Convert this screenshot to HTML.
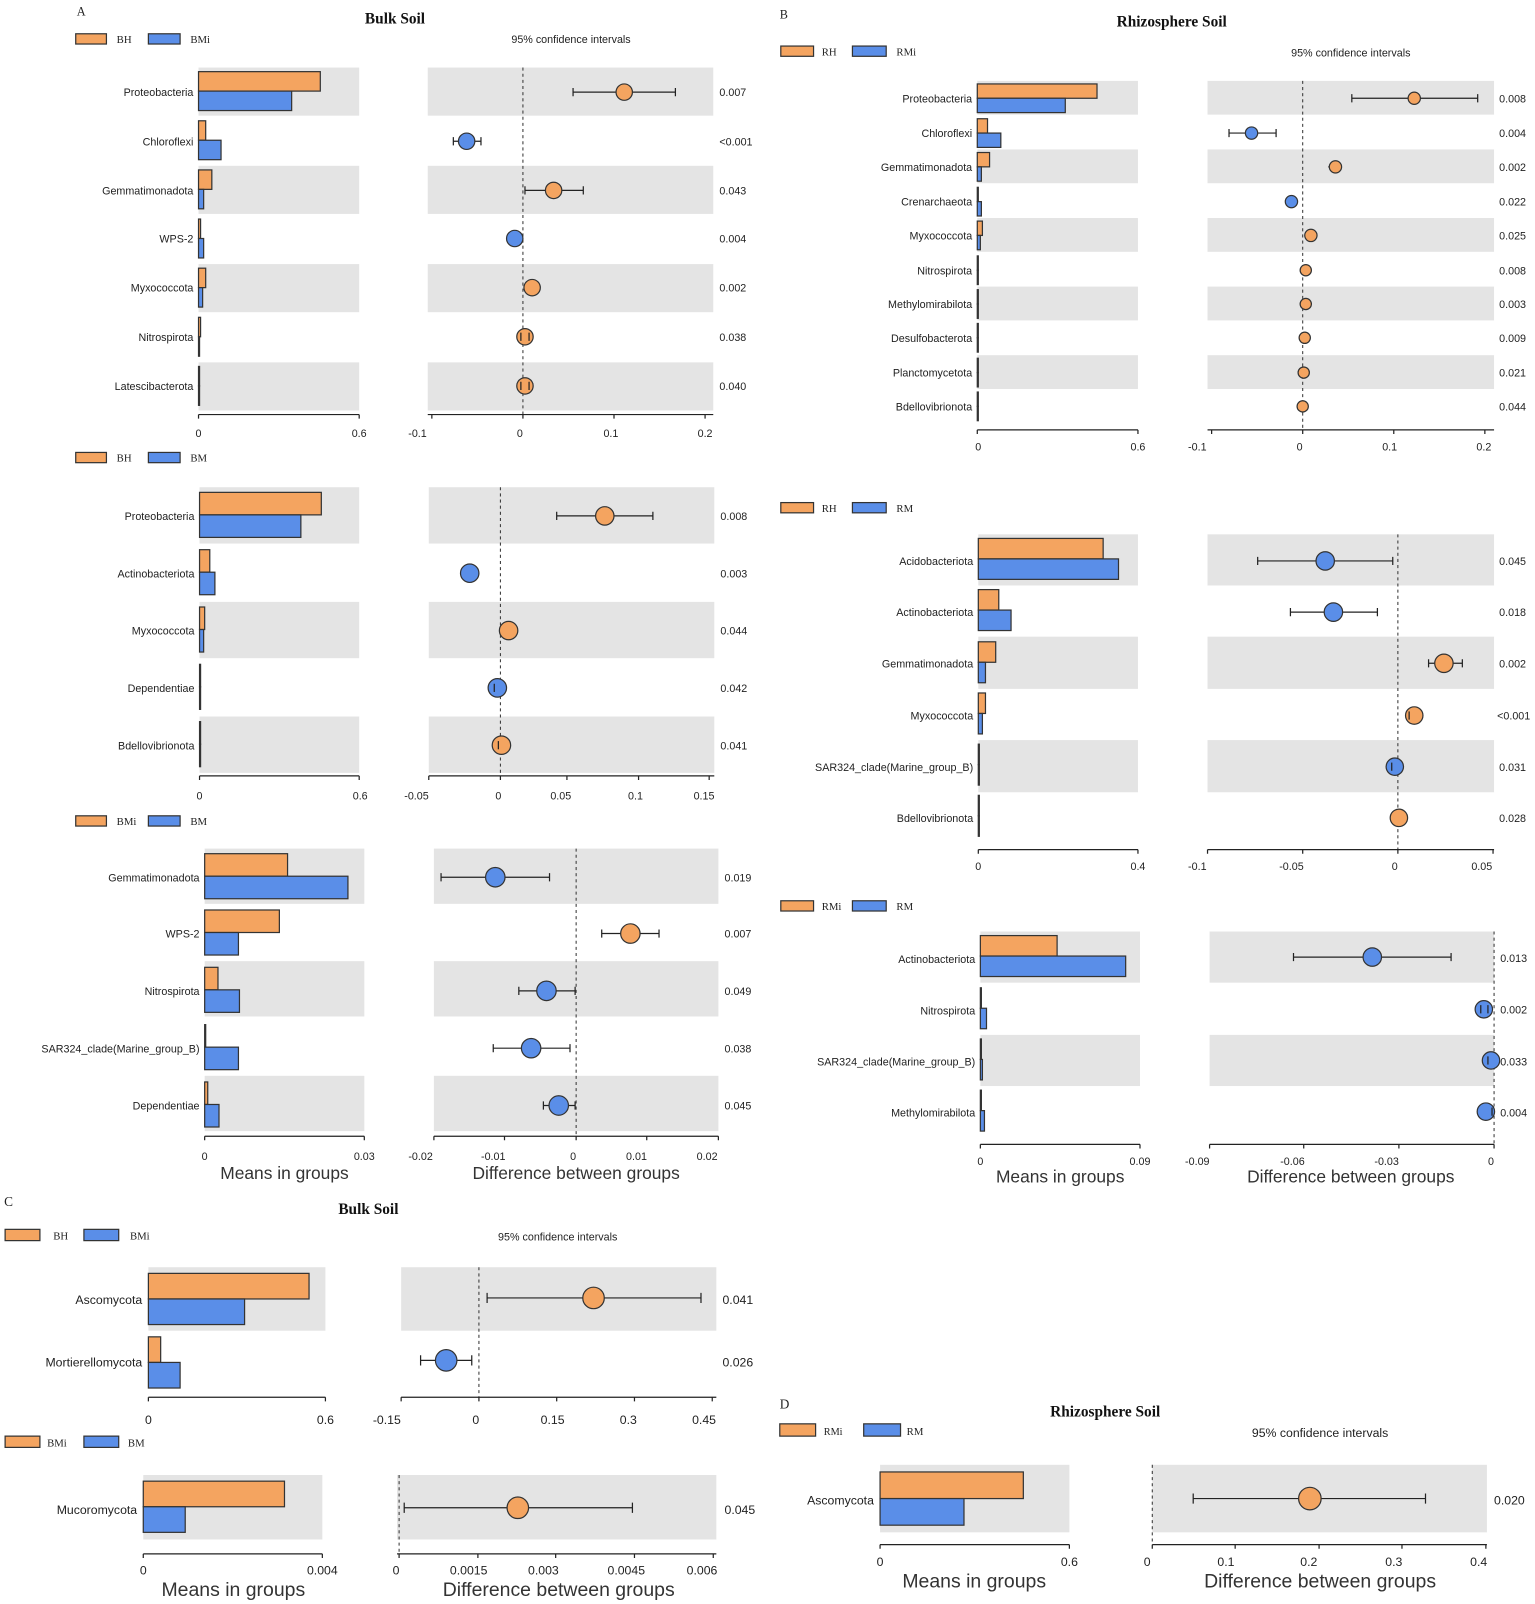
<!DOCTYPE html>
<html><head><meta charset="utf-8"><style>
html,body{margin:0;padding:0;background:#fff;}
svg{display:block}
text{font-family:"Liberation Sans",sans-serif;font-size:10.5px;fill:#222}
.s{font-family:"Liberation Serif",serif}
.t{font-family:"Liberation Serif",serif;font-weight:bold;font-size:15px;fill:#111}
.o{fill:#f4a460;stroke:#333;stroke-width:1.2}
.b{fill:#5a8ee8;stroke:#333;stroke-width:1.2}
.g{fill:#e4e4e4}
.l{stroke:#222;stroke-width:1.2;fill:none}
.d{stroke:#333;stroke-width:1;stroke-dasharray:3,3;fill:none}
.r{text-anchor:end}
.m{text-anchor:middle}
.big{font-size:17px;fill:#333}
</style></head><body>
<svg width="1535" height="1604" viewBox="0 0 1500 1567" preserveAspectRatio="none">
<!-- ===== A1 ===== -->
<text class="s" x="75" y="15" style="font-size:12px">A</text>
<text class="t m" x="386" y="23">Bulk Soil</text>
<rect class="o" x="74" y="33" width="30" height="10"/><text class="s" x="114" y="42">BH</text>
<rect class="b" x="145" y="33" width="31" height="10"/><text class="s" x="186" y="42">BMi</text>
<text class="m" x="558" y="42">95% confidence intervals</text>
<rect class="g" x="194" y="66" width="157" height="47"/><rect class="g" x="194" y="162" width="157" height="47"/><rect class="g" x="194" y="258" width="157" height="47"/><rect class="g" x="194" y="354" width="157" height="47"/>
<rect class="g" x="418" y="66" width="279" height="47"/><rect class="g" x="418" y="162" width="279" height="47"/><rect class="g" x="418" y="258" width="279" height="47"/><rect class="g" x="418" y="354" width="279" height="47"/>
<line class="d" x1="511" y1="66" x2="511" y2="405"/>
<text class="r" x="189" y="94">Proteobacteria</text><rect class="o" x="194" y="70" width="119" height="19"/><rect class="b" x="194" y="89" width="91" height="19"/>
<text class="r" x="189" y="142">Chloroflexi</text><rect class="o" x="194" y="118" width="7" height="19"/><rect class="b" x="194" y="137" width="22" height="19"/>
<text class="r" x="189" y="190">Gemmatimonadota</text><rect class="o" x="194" y="166" width="13" height="19"/><rect class="b" x="194" y="185" width="5" height="19"/>
<text class="r" x="189" y="237">WPS-2</text><rect class="o" x="194" y="214" width="2" height="19"/><rect class="b" x="194" y="233" width="5" height="19"/>
<text class="r" x="189" y="285">Myxococcota</text><rect class="o" x="194" y="262" width="7" height="19"/><rect class="b" x="194" y="281" width="4" height="19"/>
<text class="r" x="189" y="333">Nitrospirota</text><rect class="o" x="194" y="310" width="2" height="19"/><rect class="b" x="194" y="329" width="1" height="19"/>
<text class="r" x="189" y="381">Latescibacterota</text><rect class="o" x="194" y="358" width="1" height="19"/><rect class="b" x="194" y="377" width="1" height="19"/>
<path class="l" d="M194 405H351M194 405v4M351 405v4"/><text class="m" x="194" y="427">0</text><text class="m" x="351" y="427">0.6</text>
<path class="l" d="M560 90H660M560 86v8M660 86v8"/><circle class="o" cx="610" cy="90" r="8"/>
<path class="l" d="M443 138H470M443 134v8M470 134v8"/><circle class="b" cx="456" cy="138" r="8"/>
<path class="l" d="M513 186H570M513 182v8M570 182v8"/><circle class="o" cx="541" cy="186" r="8"/>
<path class="l" d="M497 233H509M497 229v8M509 229v8"/><circle class="b" cx="503" cy="233" r="8"/>
<path class="l" d="M514 281H527M514 277v8M527 277v8"/><circle class="o" cx="520" cy="281" r="8"/>
<circle class="o" cx="513" cy="329" r="8"/><path class="l" d="M509 325v8M517 325v8"/>
<circle class="o" cx="513" cy="377" r="8"/><path class="l" d="M509 373v8M517 373v8"/>
<path class="l" d="M418 405H697M422 405v4M511 405v4M600 405v4M689 405v4"/>
<text class="m" x="408" y="427">-0.1</text><text class="m" x="508" y="427">0</text><text class="m" x="597" y="427">0.1</text><text class="m" x="689" y="427">0.2</text>
<text x="703" y="94">0.007</text><text x="703" y="142">&lt;0.001</text><text x="703" y="190">0.043</text><text x="703" y="237">0.004</text><text x="703" y="285">0.002</text><text x="703" y="333">0.038</text><text x="703" y="381">0.040</text>

<!-- ===== A2 ===== -->
<rect class="o" x="74" y="442" width="30" height="10"/><text class="s" x="114" y="451">BH</text>
<rect class="b" x="145" y="442" width="31" height="10"/><text class="s" x="186" y="451">BM</text>
<rect class="g" x="195" y="476" width="156" height="55"/><rect class="g" x="195" y="588" width="156" height="55"/><rect class="g" x="195" y="700" width="156" height="55"/>
<rect class="g" x="419" y="476" width="279" height="55"/><rect class="g" x="419" y="588" width="279" height="55"/><rect class="g" x="419" y="700" width="279" height="55"/>
<line class="d" x1="489" y1="476" x2="489" y2="758"/>
<text class="r" x="190" y="508">Proteobacteria</text><rect class="o" x="195" y="481" width="119" height="22"/><rect class="b" x="195" y="503" width="99" height="22"/>
<text class="r" x="190" y="564">Actinobacteriota</text><rect class="o" x="195" y="537" width="10" height="22"/><rect class="b" x="195" y="559" width="15" height="22"/>
<text class="r" x="190" y="620">Myxococcota</text><rect class="o" x="195" y="593" width="5" height="22"/><rect class="b" x="195" y="615" width="4" height="22"/>
<text class="r" x="190" y="676">Dependentiae</text><rect class="o" x="195" y="649" width="1" height="22"/><rect class="b" x="195" y="671" width="1" height="22"/>
<text class="r" x="190" y="732">Bdellovibrionota</text><rect class="o" x="195" y="705" width="1" height="22"/><rect class="b" x="195" y="727" width="1" height="22"/>
<path class="l" d="M195 758H351M195 758v4M351 758v4"/><text class="m" x="195" y="781">0</text><text class="m" x="352" y="781">0.6</text>
<path class="l" d="M544 504H638M544 500v8M638 500v8"/><circle class="o" cx="591" cy="504" r="9"/>
<circle class="b" cx="459" cy="560" r="9"/>
<circle class="o" cx="497" cy="616" r="9"/>
<circle class="b" cx="486" cy="672" r="9"/><path class="l" d="M483 668v8"/>
<circle class="o" cx="490" cy="728" r="9"/><path class="l" d="M487 724v8"/>
<path class="l" d="M419 758H698M419 758v4M489 758v4M554 758v4M624 758v4M693 758v4"/>
<text class="m" x="407" y="781">-0.05</text><text class="m" x="487" y="781">0</text><text class="m" x="548" y="781">0.05</text><text class="m" x="621" y="781">0.1</text><text class="m" x="688" y="781">0.15</text>
<text x="704" y="508">0.008</text><text x="704" y="564">0.003</text><text x="704" y="620">0.044</text><text x="704" y="676">0.042</text><text x="704" y="732">0.041</text>

<!-- ===== A3 ===== -->
<rect class="o" x="74" y="797" width="30" height="10"/><text class="s" x="114" y="806">BMi</text>
<rect class="b" x="145" y="797" width="31" height="10"/><text class="s" x="186" y="806">BM</text>
<rect class="g" x="200" y="829" width="156" height="54"/><rect class="g" x="200" y="939" width="156" height="54"/><rect class="g" x="200" y="1051" width="156" height="54"/>
<rect class="g" x="424" y="829" width="278" height="54"/><rect class="g" x="424" y="939" width="278" height="54"/><rect class="g" x="424" y="1051" width="278" height="54"/>
<line class="d" x1="563" y1="829" x2="563" y2="1110"/>
<text class="r" x="195" y="861">Gemmatimonadota</text><rect class="o" x="200" y="834" width="81" height="22"/><rect class="b" x="200" y="856" width="140" height="22"/>
<text class="r" x="195" y="916">WPS-2</text><rect class="o" x="200" y="889" width="73" height="22"/><rect class="b" x="200" y="911" width="33" height="22"/>
<text class="r" x="195" y="972">Nitrospirota</text><rect class="o" x="200" y="945" width="13" height="22"/><rect class="b" x="200" y="967" width="34" height="22"/>
<text class="r" x="195" y="1028">SAR324_clade(Marine_group_B)</text><rect class="o" x="200" y="1001" width="1" height="22"/><rect class="b" x="200" y="1023" width="33" height="22"/>
<text class="r" x="195" y="1084">Dependentiae</text><rect class="o" x="200" y="1057" width="3" height="22"/><rect class="b" x="200" y="1079" width="14" height="22"/>
<path class="l" d="M200 1110H356M200 1110v4M356 1110v4"/><text class="m" x="200" y="1133">0</text><text class="m" x="356" y="1133">0.03</text>
<text class="m big" x="278" y="1152">Means in groups</text>
<path class="l" d="M431 857H537M431 853v8M537 853v8"/><circle class="b" cx="484" cy="857" r="9.5"/>
<path class="l" d="M588 912H644M588 908v8M644 908v8"/><circle class="o" cx="616" cy="912" r="9.5"/>
<path class="l" d="M507 968H562M507 964v8M562 964v8"/><circle class="b" cx="534" cy="968" r="9.5"/>
<path class="l" d="M482 1024H557M482 1020v8M557 1020v8"/><circle class="b" cx="519" cy="1024" r="9.5"/>
<path class="l" d="M531 1080H562M531 1076v8M562 1076v8"/><circle class="b" cx="546" cy="1080" r="9.5"/>
<path class="l" d="M424 1110H702M424 1110v4M493 1110v4M563 1110v4M632 1110v4M702 1110v4"/>
<text class="m" x="411" y="1133">-0.02</text><text class="m" x="482" y="1133">-0.01</text><text class="m" x="560" y="1133">0</text><text class="m" x="622" y="1133">0.01</text><text class="m" x="691" y="1133">0.02</text>
<text class="m big" x="563" y="1152">Difference between groups</text>
<text x="708" y="861">0.019</text><text x="708" y="916">0.007</text><text x="708" y="972">0.049</text><text x="708" y="1028">0.038</text><text x="708" y="1084">0.045</text>

<!-- ===== B1 ===== -->
<text class="s" x="762" y="18" style="font-size:12px">B</text>
<text class="t m" x="1145" y="26">Rhizosphere  Soil</text>
<rect class="o" x="763" y="45" width="32" height="10"/><text class="s" x="803" y="54">RH</text>
<rect class="b" x="833" y="45" width="33" height="10"/><text class="s" x="876" y="54">RMi</text>
<text class="m" x="1320" y="55">95% confidence intervals</text>
<rect class="g" x="955" y="79" width="157" height="33"/><rect class="g" x="955" y="146" width="157" height="33"/><rect class="g" x="955" y="213" width="157" height="33"/><rect class="g" x="955" y="280" width="157" height="33"/><rect class="g" x="955" y="347" width="157" height="33"/>
<rect class="g" x="1180" y="79" width="280" height="33"/><rect class="g" x="1180" y="146" width="280" height="33"/><rect class="g" x="1180" y="213" width="280" height="33"/><rect class="g" x="1180" y="280" width="280" height="33"/><rect class="g" x="1180" y="347" width="280" height="33"/>
<line class="d" x1="1273" y1="79" x2="1273" y2="420"/>
<text class="r" x="950" y="100">Proteobacteria</text><rect class="o" x="955" y="82" width="117" height="14"/><rect class="b" x="955" y="96" width="86" height="14"/>
<text class="r" x="950" y="134">Chloroflexi</text><rect class="o" x="955" y="116" width="10" height="14"/><rect class="b" x="955" y="130" width="23" height="14"/>
<text class="r" x="950" y="167">Gemmatimonadota</text><rect class="o" x="955" y="149" width="12" height="14"/><rect class="b" x="955" y="163" width="4" height="14"/>
<text class="r" x="950" y="201">Crenarchaeota</text><rect class="o" x="955" y="183" width="1" height="14"/><rect class="b" x="955" y="197" width="4" height="14"/>
<text class="r" x="950" y="234">Myxococcota</text><rect class="o" x="955" y="216" width="5" height="14"/><rect class="b" x="955" y="230" width="3" height="14"/>
<text class="r" x="950" y="268">Nitrospirota</text><rect class="o" x="955" y="250" width="1" height="14"/><rect class="b" x="955" y="264" width="1" height="14"/>
<text class="r" x="950" y="301">Methylomirabilota</text><rect class="o" x="955" y="283" width="1" height="14"/><rect class="b" x="955" y="297" width="1" height="14"/>
<text class="r" x="950" y="334">Desulfobacterota</text><rect class="o" x="955" y="316" width="1" height="14"/><rect class="b" x="955" y="330" width="1" height="14"/>
<text class="r" x="950" y="368">Planctomycetota</text><rect class="o" x="955" y="350" width="1" height="14"/><rect class="b" x="955" y="364" width="1" height="14"/>
<text class="r" x="950" y="401">Bdellovibrionota</text><rect class="o" x="955" y="383" width="1" height="14"/><rect class="b" x="955" y="397" width="1" height="14"/>
<path class="l" d="M955 420H1112M955 420v4M1112 420v4"/><text class="m" x="956" y="440">0</text><text class="m" x="1112" y="440">0.6</text>
<path class="l" d="M1321 96H1444M1321 92v8M1444 92v8"/><circle class="o" cx="1382" cy="96" r="6"/>
<path class="l" d="M1201 130H1247M1201 126v8M1247 126v8"/><circle class="b" cx="1223" cy="130" r="6"/>
<path class="l" d="M1298 163H1311"/><circle class="o" cx="1305" cy="163" r="6"/>
<circle class="b" cx="1262" cy="197" r="6"/>
<circle class="o" cx="1281" cy="230" r="6"/>
<circle class="o" cx="1276" cy="264" r="5.5"/><circle class="o" cx="1276" cy="297" r="5.5"/><circle class="o" cx="1275" cy="330" r="5.5"/><circle class="o" cx="1274" cy="364" r="5.5"/><circle class="o" cx="1273" cy="397" r="5.5"/>
<path class="l" d="M1180 420H1460M1184 420v4M1273 420v4M1362 420v4M1451 420v4"/>
<text class="m" x="1170" y="440">-0.1</text><text class="m" x="1270" y="440">0</text><text class="m" x="1358" y="440">0.1</text><text class="m" x="1450" y="440">0.2</text>
<text x="1465" y="100">0.008</text><text x="1465" y="134">0.004</text><text x="1465" y="167">0.002</text><text x="1465" y="201">0.022</text><text x="1465" y="234">0.025</text><text x="1465" y="268">0.008</text><text x="1465" y="301">0.003</text><text x="1465" y="334">0.009</text><text x="1465" y="368">0.021</text><text x="1465" y="401">0.044</text>

<!-- ===== B2 ===== -->
<rect class="o" x="763" y="491" width="32" height="10"/><text class="s" x="803" y="500">RH</text>
<rect class="b" x="833" y="491" width="33" height="10"/><text class="s" x="876" y="500">RM</text>
<rect class="g" x="956" y="522" width="156" height="50"/><rect class="g" x="956" y="622" width="156" height="51"/><rect class="g" x="956" y="723" width="156" height="51"/>
<rect class="g" x="1180" y="522" width="280" height="50"/><rect class="g" x="1180" y="622" width="280" height="51"/><rect class="g" x="1180" y="723" width="280" height="51"/>
<line class="d" x1="1366" y1="522" x2="1366" y2="830"/>
<text class="r" x="951" y="552">Acidobacteriota</text><rect class="o" x="956" y="526" width="122" height="20"/><rect class="b" x="956" y="546" width="137" height="20"/>
<text class="r" x="951" y="602">Actinobacteriota</text><rect class="o" x="956" y="576" width="20" height="20"/><rect class="b" x="956" y="596" width="32" height="20"/>
<text class="r" x="951" y="652">Gemmatimonadota</text><rect class="o" x="956" y="627" width="17" height="20"/><rect class="b" x="956" y="647" width="7" height="20"/>
<text class="r" x="951" y="703">Myxococcota</text><rect class="o" x="956" y="677" width="7" height="20"/><rect class="b" x="956" y="697" width="4" height="20"/>
<text class="r" x="951" y="753">SAR324_clade(Marine_group_B)</text><rect class="o" x="956" y="727" width="1" height="20"/><rect class="b" x="956" y="747" width="1" height="20"/>
<text class="r" x="951" y="803">Bdellovibrionota</text><rect class="o" x="956" y="777" width="1" height="20"/><rect class="b" x="956" y="797" width="1" height="20"/>
<path class="l" d="M956 830H1112M956 830v4M1112 830v4"/><text class="m" x="956" y="850">0</text><text class="m" x="1112" y="850">0.4</text>
<path class="l" d="M1229 548H1361M1229 544v8M1361 544v8"/><circle class="b" cx="1295" cy="548" r="9"/>
<path class="l" d="M1261 598H1346M1261 594v8M1346 594v8"/><circle class="b" cx="1303" cy="598" r="9"/>
<path class="l" d="M1396 648H1429M1396 644v8M1429 644v8"/><circle class="o" cx="1411" cy="648" r="9"/>
<circle class="o" cx="1382" cy="699" r="8.5"/><path class="l" d="M1377 695v8"/>
<circle class="b" cx="1363" cy="749" r="8.5"/><path class="l" d="M1360 745v8"/>
<circle class="o" cx="1367" cy="799" r="8.5"/>
<path class="l" d="M1180 830H1460M1180 830v4M1273 830v4M1366 830v4M1459 830v4"/>
<text class="m" x="1170" y="850">-0.1</text><text class="m" x="1262" y="850">-0.05</text><text class="m" x="1363" y="850">0</text><text class="m" x="1448" y="850">0.05</text>
<text x="1465" y="552">0.045</text><text x="1465" y="602">0.018</text><text x="1465" y="652">0.002</text><text x="1463" y="703">&lt;0.001</text><text x="1465" y="753">0.031</text><text x="1465" y="803">0.028</text>

<!-- ===== B3 ===== -->
<rect class="o" x="763" y="880" width="32" height="10"/><text class="s" x="803" y="889">RMi</text>
<rect class="b" x="833" y="880" width="33" height="10"/><text class="s" x="876" y="889">RM</text>
<rect class="g" x="958" y="910" width="156" height="50"/><rect class="g" x="958" y="1011" width="156" height="50"/>
<rect class="g" x="1182" y="910" width="278" height="50"/><rect class="g" x="1182" y="1011" width="278" height="50"/>
<line class="d" x1="1460" y1="910" x2="1460" y2="1118"/>
<text class="r" x="953" y="941">Actinobacteriota</text><rect class="o" x="958" y="914" width="75" height="20"/><rect class="b" x="958" y="934" width="142" height="20"/>
<text class="r" x="953" y="991">Nitrospirota</text><rect class="o" x="958" y="965" width="1" height="20"/><rect class="b" x="958" y="985" width="6" height="20"/>
<text class="r" x="953" y="1041">SAR324_clade(Marine_group_B)</text><rect class="o" x="958" y="1015" width="1" height="20"/><rect class="b" x="958" y="1035" width="2" height="20"/>
<text class="r" x="953" y="1091">Methylomirabilota</text><rect class="o" x="958" y="1065" width="1" height="20"/><rect class="b" x="958" y="1085" width="4" height="20"/>
<path class="l" d="M958 1118H1114M958 1118v4M1114 1118v4"/><text class="m" x="958" y="1138">0</text><text class="m" x="1114" y="1138">0.09</text>
<text class="m big" x="1036" y="1155">Means in groups</text>
<path class="l" d="M1264 935H1418M1264 931v8M1418 931v8"/><circle class="b" cx="1341" cy="935" r="9"/>
<circle class="b" cx="1450" cy="986" r="8.5"/><path class="l" d="M1447 982v8M1454 982v8"/>
<circle class="b" cx="1457" cy="1036" r="8.5"/><path class="l" d="M1454 1032v8"/>
<circle class="b" cx="1452" cy="1086" r="8.5"/><path class="l" d="M1458 1082v8"/>
<path class="l" d="M1182 1118H1460M1182 1118v4M1274 1118v4M1367 1118v4M1460 1118v4"/>
<text class="m" x="1170" y="1138">-0.09</text><text class="m" x="1263" y="1138">-0.06</text><text class="m" x="1355" y="1138">-0.03</text><text class="m" x="1457" y="1138">0</text>
<text class="m big" x="1320" y="1155">Difference between groups</text>
<text x="1466" y="940">0.013</text><text x="1466" y="990">0.002</text><text x="1466" y="1041">0.033</text><text x="1466" y="1091">0.004</text>

<!-- ===== C ===== -->
<text class="s" x="4" y="1178" style="font-size:13px">C</text>
<text class="t m" x="360" y="1186">Bulk Soil</text>
<rect class="o" x="5" y="1201" width="34" height="11"/><text class="s" x="52" y="1211">BH</text>
<rect class="b" x="82" y="1201" width="34" height="11"/><text class="s" x="127" y="1211">BMi</text>
<text class="m" x="545" y="1212">95% confidence intervals</text>
<rect class="g" x="145" y="1238" width="173" height="62"/><rect class="g" x="392" y="1238" width="308" height="62"/>
<line class="d" x1="468" y1="1238" x2="468" y2="1365"/>
<text class="r" x="139" y="1274" style="font-size:12px">Ascomycota</text><rect class="o" x="145" y="1244" width="157" height="25"/><rect class="b" x="145" y="1269" width="94" height="25"/>
<text class="r" x="139" y="1335" style="font-size:12px">Mortierellomycota</text><rect class="o" x="145" y="1306" width="12" height="25"/><rect class="b" x="145" y="1331" width="31" height="25"/>
<path class="l" d="M145 1365H318M145 1365v4M318 1365v4"/><text class="m" x="145" y="1391" style="font-size:12px">0</text><text class="m" x="318" y="1391" style="font-size:12px">0.6</text>
<path class="l" d="M476 1268H685M476 1263v10M685 1263v10"/><circle class="o" cx="580" cy="1268" r="10.5"/>
<path class="l" d="M411 1329H461M411 1324v10M461 1324v10"/><circle class="b" cx="436" cy="1329" r="10.5"/>
<path class="l" d="M392 1365H700M392 1365v4M468 1365v4M544 1365v4M620 1365v4M696 1365v4"/>
<text class="m" x="378" y="1391" style="font-size:12px">-0.15</text><text class="m" x="465" y="1391" style="font-size:12px">0</text><text class="m" x="540" y="1391" style="font-size:12px">0.15</text><text class="m" x="614" y="1391" style="font-size:12px">0.3</text><text class="m" x="688" y="1391" style="font-size:12px">0.45</text>
<text x="706" y="1274" style="font-size:12px">0.041</text><text x="706" y="1335" style="font-size:12px">0.026</text>
<!-- C2 -->
<rect class="o" x="5" y="1403" width="34" height="11"/><text class="s" x="46" y="1413">BMi</text>
<rect class="b" x="82" y="1403" width="34" height="11"/><text class="s" x="125" y="1413">BM</text>
<rect class="g" x="140" y="1441" width="175" height="63"/><rect class="g" x="388" y="1441" width="312" height="63"/>
<line class="d" x1="390" y1="1441" x2="390" y2="1518"/>
<text class="r" x="134" y="1479" style="font-size:12px">Mucoromycota</text><rect class="o" x="140" y="1447" width="138" height="25"/><rect class="b" x="140" y="1472" width="41" height="25"/>
<path class="l" d="M140 1518H315M140 1518v4M315 1518v4"/><text class="m" x="140" y="1538" style="font-size:12px">0</text><text class="m" x="315" y="1538" style="font-size:12px">0.004</text>
<text class="m big" x="228" y="1559" style="font-size:19px">Means in groups</text>
<path class="l" d="M395 1473H618M395 1468v10M618 1468v10"/><circle class="o" cx="506" cy="1473" r="10.5"/>
<path class="l" d="M388 1518H700M390 1518v4M467 1518v4M543 1518v4M620 1518v4M697 1518v4"/>
<text class="m" x="387" y="1538" style="font-size:12px">0</text><text class="m" x="458" y="1538" style="font-size:12px">0.0015</text><text class="m" x="531" y="1538" style="font-size:12px">0.003</text><text class="m" x="612" y="1538" style="font-size:12px">0.0045</text><text class="m" x="686" y="1538" style="font-size:12px">0.006</text>
<text class="m big" x="546" y="1559" style="font-size:19px">Difference between groups</text>
<text x="708" y="1479" style="font-size:12px">0.045</text>

<!-- ===== D ===== -->
<text class="s" x="762" y="1376" style="font-size:13px">D</text>
<text class="t m" x="1080" y="1384">Rhizosphere Soil</text>
<rect class="o" x="762" y="1391" width="35" height="12"/><text class="s" x="805" y="1402" style="font-size:10px">RMi</text>
<rect class="b" x="844" y="1391" width="36" height="12"/><text class="s" x="886" y="1402">RM</text>
<text class="m" x="1290" y="1404" style="font-size:12px">95% confidence intervals</text>
<rect class="g" x="860" y="1431" width="185" height="66"/><rect class="g" x="1126" y="1431" width="327" height="66"/>
<line class="d" x1="1126" y1="1431" x2="1126" y2="1509"/>
<text class="r" x="854" y="1470" style="font-size:12px">Ascomycota</text><rect class="o" x="860" y="1438" width="140" height="26"/><rect class="b" x="860" y="1464" width="82" height="26"/>
<path class="l" d="M860 1509H1045M860 1509v4M1045 1509v4"/><text class="m" x="860" y="1530" style="font-size:12px">0</text><text class="m" x="1045" y="1530" style="font-size:12px">0.6</text>
<text class="m big" x="952" y="1551" style="font-size:19px">Means in groups</text>
<path class="l" d="M1166 1464H1393M1166 1459v10M1393 1459v10"/><circle class="o" cx="1280" cy="1464" r="11"/>
<path class="l" d="M1126 1509H1453M1126 1509v4M1207 1509v4M1289 1509v4M1370 1509v4M1452 1509v4"/>
<text class="m" x="1121" y="1530" style="font-size:12px">0</text><text class="m" x="1198" y="1530" style="font-size:12px">0.1</text><text class="m" x="1279" y="1530" style="font-size:12px">0.2</text><text class="m" x="1362" y="1530" style="font-size:12px">0.3</text><text class="m" x="1445" y="1530" style="font-size:12px">0.4</text>
<text class="m big" x="1290" y="1551" style="font-size:19px">Difference between groups</text>
<text x="1460" y="1470" style="font-size:12px">0.020</text>
</svg>
</body></html>
